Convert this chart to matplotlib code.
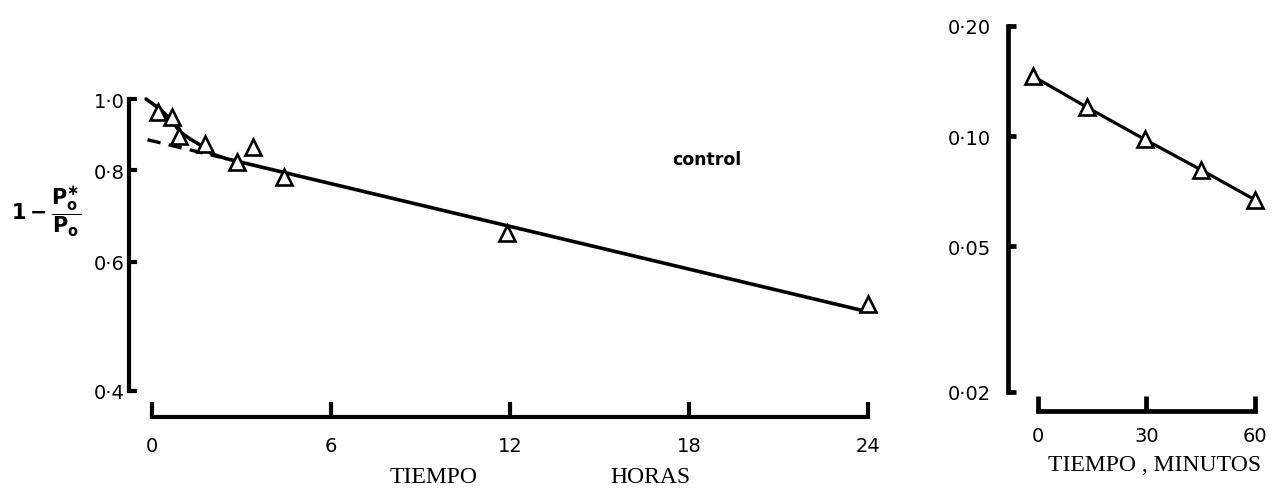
import matplotlib
matplotlib.use("Agg")
import matplotlib.pyplot as plt
from matplotlib.ticker import FixedLocator, NullLocator

# ---- data: control, hours ----
hours = [0.20, 0.67, 0.91, 1.78, 2.85, 3.39, 4.43, 11.9, 24.0]
frac_hours = [0.960, 0.945, 0.890, 0.868, 0.821, 0.860, 0.783, 0.657, 0.526]

# drawn fit: fast phase merging into the slow straight line
fit_t = [-0.2, 0.27, 0.67, 0.94, 1.28, 1.61, 2.0, 2.5, 23.8]
fit_y = [1.0, 0.969, 0.934, 0.902, 0.882, 0.866, 0.842, 0.829, 0.515]

# back-extrapolation of the slow component
extrap_t = [-0.15, 2.3]
extrap_y = [0.880, 0.833]

# ---- data: minutes ----
minutes = [-1.5, 13.5, 29.5, 45.0, 60.0]
frac_minutes = [0.146, 0.120, 0.098, 0.081, 0.067]

# ---- tick labels ----
left_yticks = [0.4, 0.6, 0.8, 1.0]
left_yticklabels = ["0·4", "0·6", "0·8", "1·0"]
left_xticks = [0, 6, 12, 18, 24]
right_yticks = [0.02, 0.05, 0.10, 0.20]
right_yticklabels = ["0·02", "0·05", "0·10", "0·20"]
right_xticks = [0, 30, 60]

W, H = 1278, 489
fig = plt.figure(figsize=(W / 100, H / 100), dpi=100)
fig.patch.set_facecolor("white")

TICK_FONT = dict(family="DejaVu Sans", size=14)
LABEL_FONT = dict(family="Liberation Serif", size=17)


def px_axes(x0, y0, x1, y1):
    """Axes from pixel box (left, top, right, bottom)."""
    return fig.add_axes([x0 / W, 1 - y1 / H, (x1 - x0) / W, (y1 - y0) / H])


def style(ax, ybounds, xbounds, ypad, xpad, spine_w=3.0):
    ax.set_yscale("log")
    for s in ("top", "right"):
        ax.spines[s].set_visible(False)
    for s in ("left", "bottom"):
        ax.spines[s].set_linewidth(spine_w)
        ax.spines[s].set_capstyle("projecting")
    ax.spines["left"].set_bounds(*ybounds)
    ax.spines["bottom"].set_bounds(*xbounds)
    ax.yaxis.set_minor_locator(NullLocator())
    ax.xaxis.set_minor_locator(NullLocator())
    ax.tick_params(axis="y", direction="in", length=6, width=spine_w, pad=ypad)
    ax.tick_params(axis="x", direction="in", length=11, width=spine_w, pad=xpad)
    ax.set_facecolor("none")


# ---------------- left panel ----------------
ax1 = px_axes(129, 97, 875, 418)
ax1.set_xlim(-0.771, 24.23)
ax1.set_ylim(0.3686, 1.0095)
style(ax1, (0.4, 1.0), (0, 24), ypad=3, xpad=14)
ax1.yaxis.set_major_locator(FixedLocator(left_yticks))
ax1.set_yticklabels(left_yticklabels, **TICK_FONT)
ax1.xaxis.set_major_locator(FixedLocator(left_xticks))
ax1.set_xticklabels([str(v) for v in left_xticks], **TICK_FONT)

ax1.plot(fit_t, fit_y, color="black", lw=2.6, solid_capstyle="round", zorder=2)
ax1.plot(extrap_t, extrap_y, color="black", lw=2.4, dashes=(4, 2.5), zorder=2)
ax1.plot(hours, frac_hours, linestyle="none", marker="^", ms=11,
         mfc="white", mec="black", mew=1.9, zorder=3, clip_on=False)
ax1.text(0.728, 0.804, "control", transform=ax1.transAxes, ha="left",
         va="center", family="DejaVu Sans", size=12.5, weight="semibold")

# ---------------- right panel ----------------
ax2 = px_axes(1008, 27, 1260, 412)
ax2.set_xlim(-8.3, 61.4)
ax2.set_ylim(0.01774, 0.2)
style(ax2, (0.02, 0.2), (0, 60), ypad=12, xpad=11, spine_w=3.4)
ax2.yaxis.set_major_locator(FixedLocator(right_yticks))
ax2.set_yticklabels(right_yticklabels, **TICK_FONT)
ax2.xaxis.set_major_locator(FixedLocator(right_xticks))
ax2.set_xticklabels([str(v) for v in right_xticks], **TICK_FONT)

ax2.plot(minutes, frac_minutes, color="black", lw=2.3, marker="^", ms=11,
         mfc="white", mec="black", mew=1.9, clip_on=False)

# ---------------- labels ----------------
plt.rcParams["mathtext.fontset"] = "dejavusans"
fig.text(11 / W, 1 - 212 / H, r"$\mathbf{1-\dfrac{P_o^{\ast}}{P_o}}$",
         ha="left", va="center", size=15)
fig.text(434 / W, 1 - 478 / H, "TIEMPO", ha="center", va="center", **LABEL_FONT)
fig.text(610 / W, 1 - 478 / H, "HORAS", ha="left", va="center", **LABEL_FONT)
fig.text(1155 / W, 1 - 466 / H, "TIEMPO , MINUTOS", ha="center", va="center",
         **LABEL_FONT)

fig.savefig("out.png", dpi=100, facecolor="white")
